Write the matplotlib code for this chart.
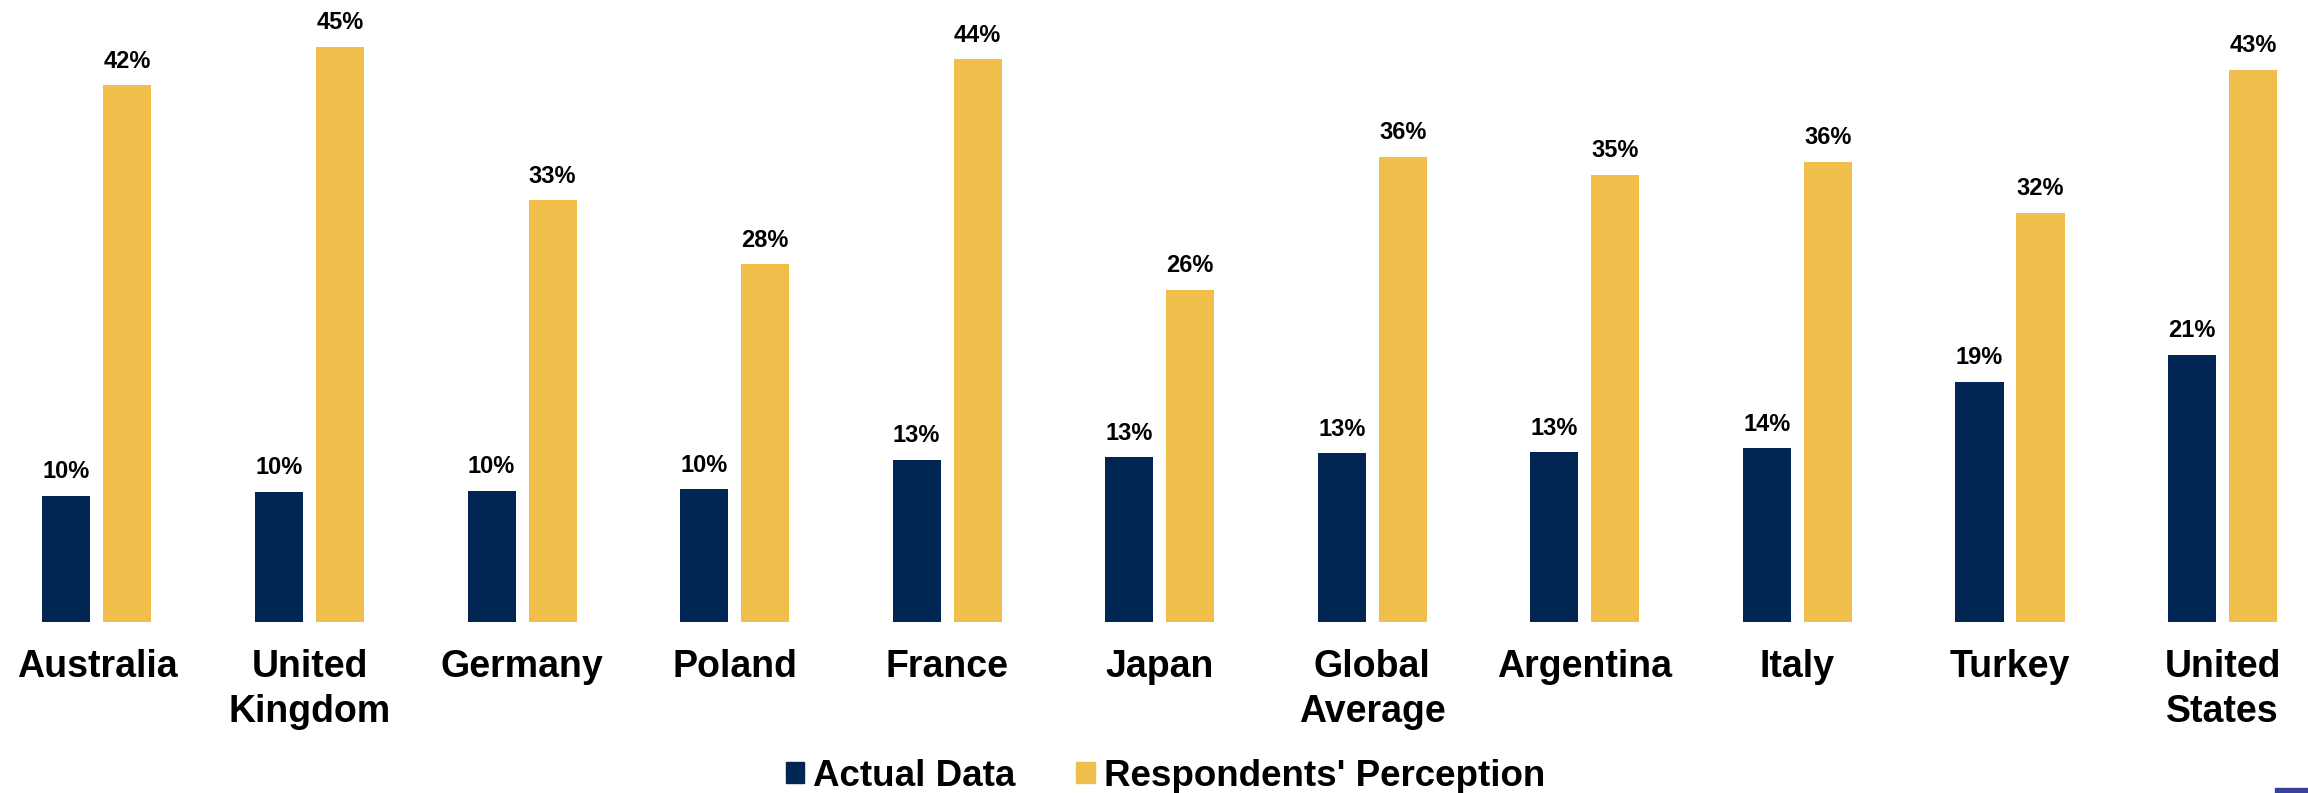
import numpy as np
import matplotlib.pyplot as plt
from matplotlib.patches import Patch, Rectangle

countries = ["Australia", "United\nKingdom", "Germany", "Poland", "France", "Japan",
             "Global\nAverage", "Argentina", "Italy", "Turkey", "United\nStates"]
actual = [9.9, 10.2, 10.3, 10.4, 12.7, 12.9, 13.2, 13.3, 13.6, 18.8, 20.9]
perception = [42.0, 45.0, 33.0, 28.0, 44.0, 26.0, 36.4, 35.0, 36.0, 32.0, 43.2]

navy = "#022654"
gold = "#F0BE4A"

plt.rcParams['font.family'] = ['Liberation Sans', 'DejaVu Sans']
plt.rcParams['font.weight'] = 'bold'

fig = plt.figure(figsize=(23.08, 7.93), dpi=100)
ax = fig.add_axes([0, 0.2153, 1, 0.7847])

x = np.arange(len(countries))
w = 0.226
off = 0.1435
b1 = ax.bar(x - off, actual, w, color=navy)
b2 = ax.bar(x + off, perception, w, color=gold)

for bars, vals in [(b1, actual), (b2, perception)]:
    for r, v in zip(bars, vals):
        ax.annotate(f"{v:.0f}%", (r.get_x() + r.get_width() / 2, r.get_height()),
                    xytext=(0, 9), textcoords="offset points",
                    ha="center", va="bottom", fontsize=17, fontweight="bold")

ax.set_xlim(-0.456, 10.402)
ax.set_ylim(0, 48.65)
ax.set_xticks(x)
ax.set_xticklabels(countries, fontsize=27, fontweight="bold")
for t in ax.get_xticklabels():
    t.set_linespacing(1.3)
ax.tick_params(axis="x", length=0, pad=19.5)
ax.set_yticks([])
for s in ax.spines.values():
    s.set_visible(False)

handles = [Patch(color=navy, label="Actual Data"),
           Patch(color=gold, label="Respondents' Perception")]
fig.legend(handles=handles, loc="center", bbox_to_anchor=(0.505, 0.021), ncol=2,
           frameon=False, prop={"size": 26.5, "weight": "bold"},
           handlelength=0.5, handleheight=0.5, handletextpad=0.25,
           columnspacing=1.65)

fig.add_artist(Rectangle((2275 / 2308, 0), 33 / 2308, 5 / 793,
                         transform=fig.transFigure, color="#3A3F9A"))

fig.savefig("out.png", dpi=100)
